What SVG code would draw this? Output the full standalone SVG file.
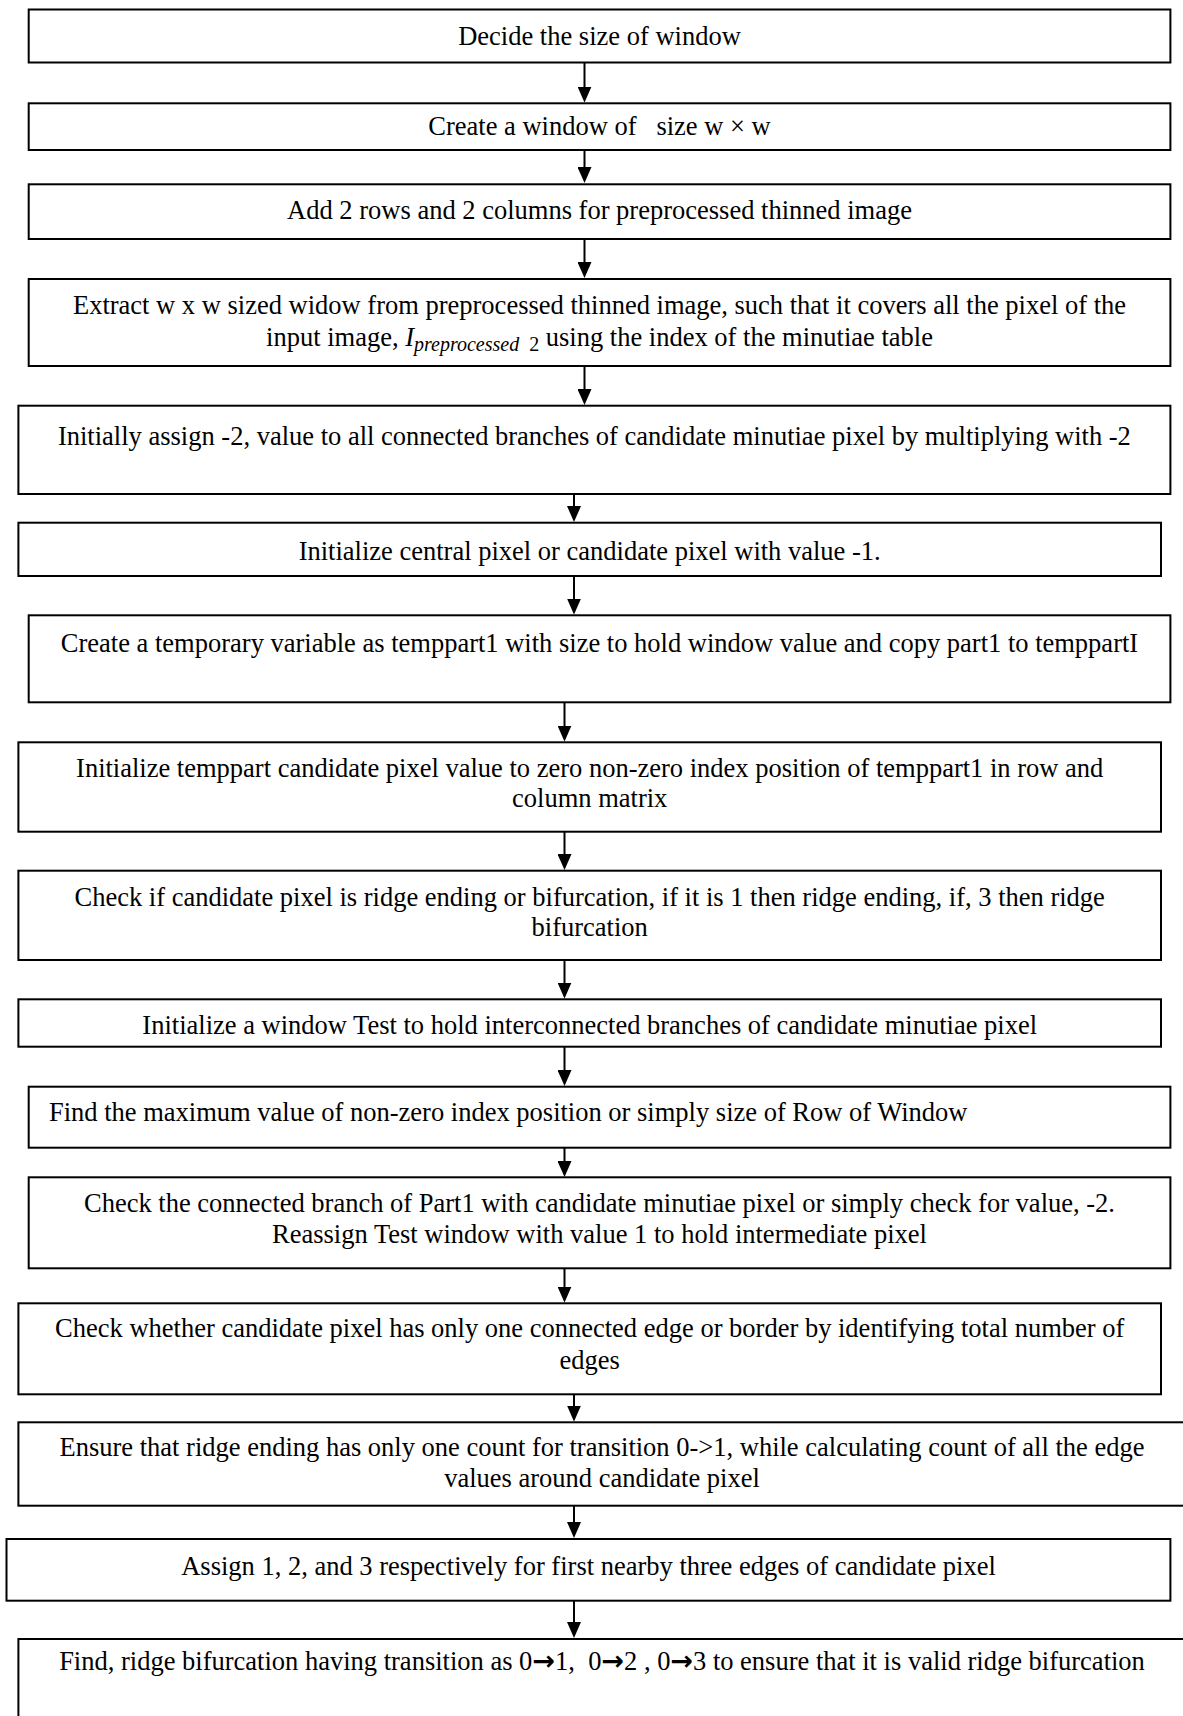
<svg xmlns="http://www.w3.org/2000/svg" width="1183" height="1716" viewBox="0 0 1183 1716">
  <style>
    .box { fill: #ffffff; stroke: #000000; stroke-width: 2; }
    .lbl { font-family: "Liberation Serif", "Times New Roman", serif; font-size: 26.5px; fill: #000000; text-anchor: middle; white-space: pre; }
    .left { text-anchor: start; }
    .it { font-style: italic; }
    .sub { font-size: 20px; }
    .arw { font-family: "DejaVu Sans", sans-serif; font-weight: bold; font-size: 27px; }
    .link { stroke: #000000; stroke-width: 2; fill: none; marker-end: url(#head); }
  </style>
  <defs>
    <marker id="head" markerUnits="userSpaceOnUse" markerWidth="16" markerHeight="14" refX="6" refY="7" orient="auto">
      <path d="M0,0 L16,7 L0,14 z" fill="#000000"/>
    </marker>
  </defs>
  <rect width="1183" height="1716" fill="#ffffff"/>

  <!-- connectors between consecutive steps -->
  <g id="connectors">
    <line class="link" x1="584.5" y1="62.5" x2="584.5" y2="92.5"/>
    <line class="link" x1="584.5" y1="150" x2="584.5" y2="173"/>
    <line class="link" x1="584.5" y1="239" x2="584.5" y2="268"/>
    <line class="link" x1="584.5" y1="366" x2="584.5" y2="395"/>
    <line class="link" x1="574" y1="494" x2="574" y2="512"/>
    <line class="link" x1="574" y1="576" x2="574" y2="604.5"/>
    <line class="link" x1="564.5" y1="702.3" x2="564.5" y2="731.5"/>
    <line class="link" x1="564.5" y1="831.7" x2="564.5" y2="860"/>
    <line class="link" x1="564.5" y1="960" x2="564.5" y2="988.5"/>
    <line class="link" x1="564.5" y1="1046.7" x2="564.5" y2="1076"/>
    <line class="link" x1="564.5" y1="1147.7" x2="564.5" y2="1167"/>
    <line class="link" x1="564.5" y1="1268.3" x2="564.5" y2="1292.5"/>
    <line class="link" x1="574" y1="1394.3" x2="574" y2="1411.5"/>
    <line class="link" x1="574" y1="1505.7" x2="574" y2="1528"/>
    <line class="link" x1="574" y1="1600.7" x2="574" y2="1628"/>
  </g>

  <g id="step1">
    <rect class="box" x="28.7" y="9.5" width="1141.7" height="53"/>
    <text class="lbl" x="599.5" y="45">Decide the size of window</text>
  </g>
  <g id="step2">
    <rect class="box" x="28.7" y="103.3" width="1141.7" height="46.7"/>
    <text class="lbl" x="599.5" y="135">Create a window of   size w × w</text>
  </g>
  <g id="step3">
    <rect class="box" x="28.7" y="184.3" width="1141.7" height="54.7"/>
    <text class="lbl" x="599.5" y="219">Add 2 rows and 2 columns for preprocessed thinned image</text>
  </g>
  <g id="step4">
    <rect class="box" x="28.7" y="279" width="1141.7" height="87"/>
    <text class="lbl" x="599.5" y="314">Extract w x w sized widow from preprocessed thinned image, such that it covers all the pixel of the</text>
    <text class="lbl" x="599.5" y="345.5">input image, <tspan class="it">I</tspan><tspan class="it sub" dy="5">preprocessed</tspan><tspan class="sub">  2</tspan><tspan dy="-5"> using the index of the minutiae table</tspan></text>
  </g>
  <g id="step5">
    <rect class="box" x="18.4" y="405.7" width="1152" height="88.3"/>
    <text class="lbl" x="594.4" y="445">Initially assign -2, value to all connected branches of candidate minutiae pixel by multiplying with -2</text>
  </g>
  <g id="step6">
    <rect class="box" x="18.4" y="522.7" width="1142.6" height="53.3"/>
    <text class="lbl" x="589.7" y="559.5">Initialize central pixel or candidate pixel with value -1.</text>
  </g>
  <g id="step7">
    <rect class="box" x="28.7" y="615.3" width="1141.7" height="87"/>
    <text class="lbl" x="599.5" y="652">Create a temporary variable as temppart1 with size to hold window value and copy part1 to temppartI</text>
  </g>
  <g id="step8">
    <rect class="box" x="18.4" y="742.3" width="1142.6" height="89.4"/>
    <text class="lbl" x="589.7" y="777.3">Initialize temppart candidate pixel value to zero non-zero index position of temppart1 in row and</text>
    <text class="lbl" x="589.7" y="807.3">column matrix</text>
  </g>
  <g id="step9">
    <rect class="box" x="18.4" y="870.7" width="1142.6" height="89.3"/>
    <text class="lbl" x="589.7" y="906">Check if candidate pixel is ridge ending or bifurcation, if it is 1 then ridge ending, if, 3 then ridge</text>
    <text class="lbl" x="589.7" y="935.7">bifurcation</text>
  </g>
  <g id="step10">
    <rect class="box" x="18.4" y="999.3" width="1142.6" height="47.4"/>
    <text class="lbl" x="589.7" y="1034">Initialize a window Test to hold interconnected branches of candidate minutiae pixel</text>
  </g>
  <g id="step11">
    <rect class="box" x="28.7" y="1086.7" width="1141.7" height="61"/>
    <text class="lbl left" x="49" y="1120.7">Find the maximum value of non-zero index position or simply size of Row of Window</text>
  </g>
  <g id="step12">
    <rect class="box" x="28.7" y="1177.3" width="1141.7" height="91"/>
    <text class="lbl" x="599.5" y="1211.7">Check the connected branch of Part1 with candidate minutiae pixel or simply check for value, -2.</text>
    <text class="lbl" x="599.5" y="1242.7">Reassign Test window with value 1 to hold intermediate pixel</text>
  </g>
  <g id="step13">
    <rect class="box" x="18.4" y="1303.3" width="1142.6" height="91"/>
    <text class="lbl" x="589.7" y="1336.7">Check whether candidate pixel has only one connected edge or border by identifying total number of</text>
    <text class="lbl" x="589.7" y="1369">edges</text>
  </g>
  <g id="step14">
    <rect class="box" x="18.4" y="1422.3" width="1167.6" height="83.4"/>
    <text class="lbl" x="602" y="1455.7">Ensure that ridge ending has only one count for transition 0-&gt;1, while calculating count of all the edge</text>
    <text class="lbl" x="602" y="1486.7">values around candidate pixel</text>
  </g>
  <g id="step15">
    <rect class="box" x="6.5" y="1539" width="1163.9" height="61.7"/>
    <text class="lbl" x="588.5" y="1575">Assign 1, 2, and 3 respectively for first nearby three edges of candidate pixel</text>
  </g>
  <g id="step16">
    <rect class="box" x="18.4" y="1639" width="1167.6" height="100"/>
    <text class="lbl" x="602" y="1670">Find, ridge bifurcation having transition as 0<tspan class="arw">→</tspan>1,  0<tspan class="arw">→</tspan>2 , 0<tspan class="arw">→</tspan>3 to ensure that it is valid ridge bifurcation</text>
  </g>
</svg>
